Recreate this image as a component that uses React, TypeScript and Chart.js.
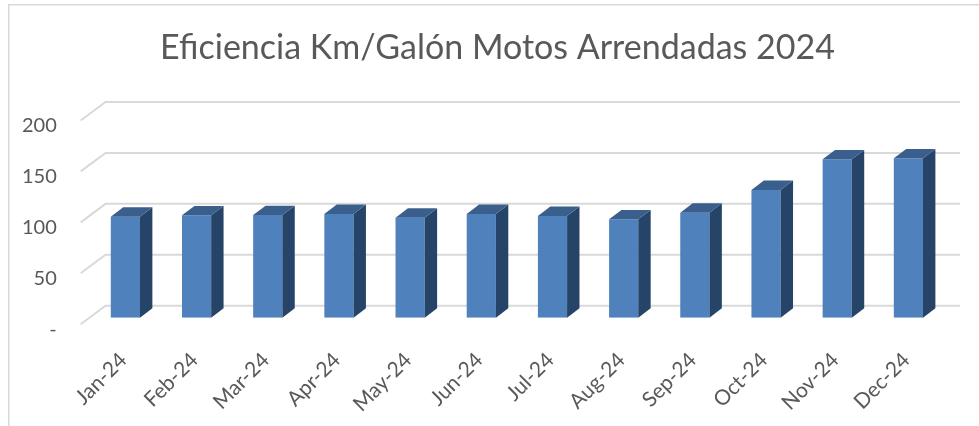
import React, { useEffect, useRef } from "react";
import { Chart, registerables } from "chart.js";

Chart.register(...registerables);

const months = ["Jan-24", "Feb-24", "Mar-24", "Apr-24", "May-24", "Jun-24", "Jul-24", "Aug-24", "Sep-24", "Oct-24", "Nov-24", "Dec-24"];
const efficiency = [99.2, 100.5, 100.8, 101.8, 98.2, 101.8, 99.9, 96.6, 103.1, 125.4, 155.5, 156.5];
const gridValues = [0, 50, 100, 150, 200];
const titleText = "Eficiencia Km/Galón Motos Arrendadas 2024";

const FRONT = "#4f81bd";
const SIDE = "#264468";
const TOP = "#3a5f8c";
const GRID = "#d9d9d9";
const TEXT = "#595959";
const FONT = "Lato, 'Open Sans', sans-serif";

const DX = 12.4;
const DY = -9.4;

const threeD = {
  id: "threeD",
  beforeDraw(chart: any) {
    const ctx = chart.ctx;
    ctx.save();
    ctx.strokeStyle = GRID;
    ctx.lineWidth = 1.5;
    ctx.strokeRect(8.75, 4.75, 3000, 3000);
    ctx.fillStyle = TEXT;
    ctx.font = `34px ${FONT}`;
    ctx.textAlign = "center";
    ctx.textBaseline = "middle";
    ctx.fillText(titleText, 497.5, 48);
    ctx.restore();
  },
  beforeDatasetsDraw(chart: any) {
    const ctx = chart.ctx;
    const y = chart.scales.y;
    const area = chart.chartArea;
    ctx.save();
    ctx.strokeStyle = GRID;
    ctx.lineWidth = 2;
    const backLeft = area.left + 15.7;
    const backRight = 960;
    for (const v of gridValues) {
      const yb = y.getPixelForValue(v) - 12;
      ctx.beginPath();
      ctx.moveTo(backLeft - 24.8, yb + 18.5);
      ctx.lineTo(backLeft, yb);
      ctx.lineTo(backRight, yb);
      ctx.stroke();
    }
    ctx.restore();
  },
  afterDatasetsDraw(chart: any) {
    const ctx = chart.ctx;
    const meta = chart.getDatasetMeta(0);
    ctx.save();
    for (const bar of meta.data) {
      const p = bar.getProps(["x", "y", "base", "width"], true);
      const x1 = p.x - p.width / 2;
      const x2 = p.x + p.width / 2;
      const yt = p.y;
      const yb = p.base;
      ctx.fillStyle = SIDE;
      ctx.beginPath();
      ctx.moveTo(x2, yt);
      ctx.lineTo(x2 + DX, yt + DY);
      ctx.lineTo(x2 + DX, yb + DY);
      ctx.lineTo(x2, yb);
      ctx.closePath();
      ctx.fill();
      ctx.fillStyle = TOP;
      ctx.beginPath();
      ctx.moveTo(x1, yt);
      ctx.lineTo(x2, yt);
      ctx.lineTo(x2 + DX, yt + DY);
      ctx.lineTo(x1 + DX, yt + DY);
      ctx.closePath();
      ctx.fill();
    }
    ctx.restore();
  },
};

export default function App() {
  const ref = useRef<HTMLCanvasElement>(null);
  useEffect(() => {
    const canvas = ref.current!;
    const chart = new Chart(canvas, {
      type: "bar",
      data: {
        labels: months,
        datasets: [
          {
            data: efficiency,
            backgroundColor: FRONT,
            borderWidth: 0,
            barPercentage: 0.41,
            categoryPercentage: 1,
          },
        ],
      },
      options: {
        responsive: false,
        animation: false,
        layout: { padding: { left: 0, right: 35, top: 114, bottom: 0 } },
        plugins: {
          legend: { display: false },
          tooltip: { enabled: false },
          title: { display: false },
        },
        scales: {
          x: {
            offset: true,
            grid: { display: false, drawTicks: false },
            border: { display: false },
            ticks: {
              autoSkip: false,
              minRotation: 45,
              maxRotation: 45,
              padding: 30,
              labelOffset: -2,
              color: TEXT,
              font: { family: FONT, size: 21 },
            },
            afterFit(s: any) {
              s.height = 108.3;
            },
          },
          y: {
            min: 0,
            max: 200,
            grid: { display: false, drawTicks: false },
            border: { display: false },
            ticks: {
              stepSize: 50,
              padding: 33,
              labelOffset: 12,
              color: TEXT,
              font: { family: FONT, size: 20 },
              callback: (v: any) => (Number(v) === 0 ? "-" : String(v)),
            },
            afterFit(s: any) {
              s.width = 89.8;
            },
          },
        },
      },
      plugins: [threeD],
    });
    return () => chart.destroy();
  }, []);
  return (
    <div style={{ position: "fixed", left: 0, top: 0, width: 979, height: 426, background: "#fff" }}>
      <canvas ref={ref} width={979} height={426} style={{ width: 979, height: 426, display: "block" }} />
    </div>
  );
}
